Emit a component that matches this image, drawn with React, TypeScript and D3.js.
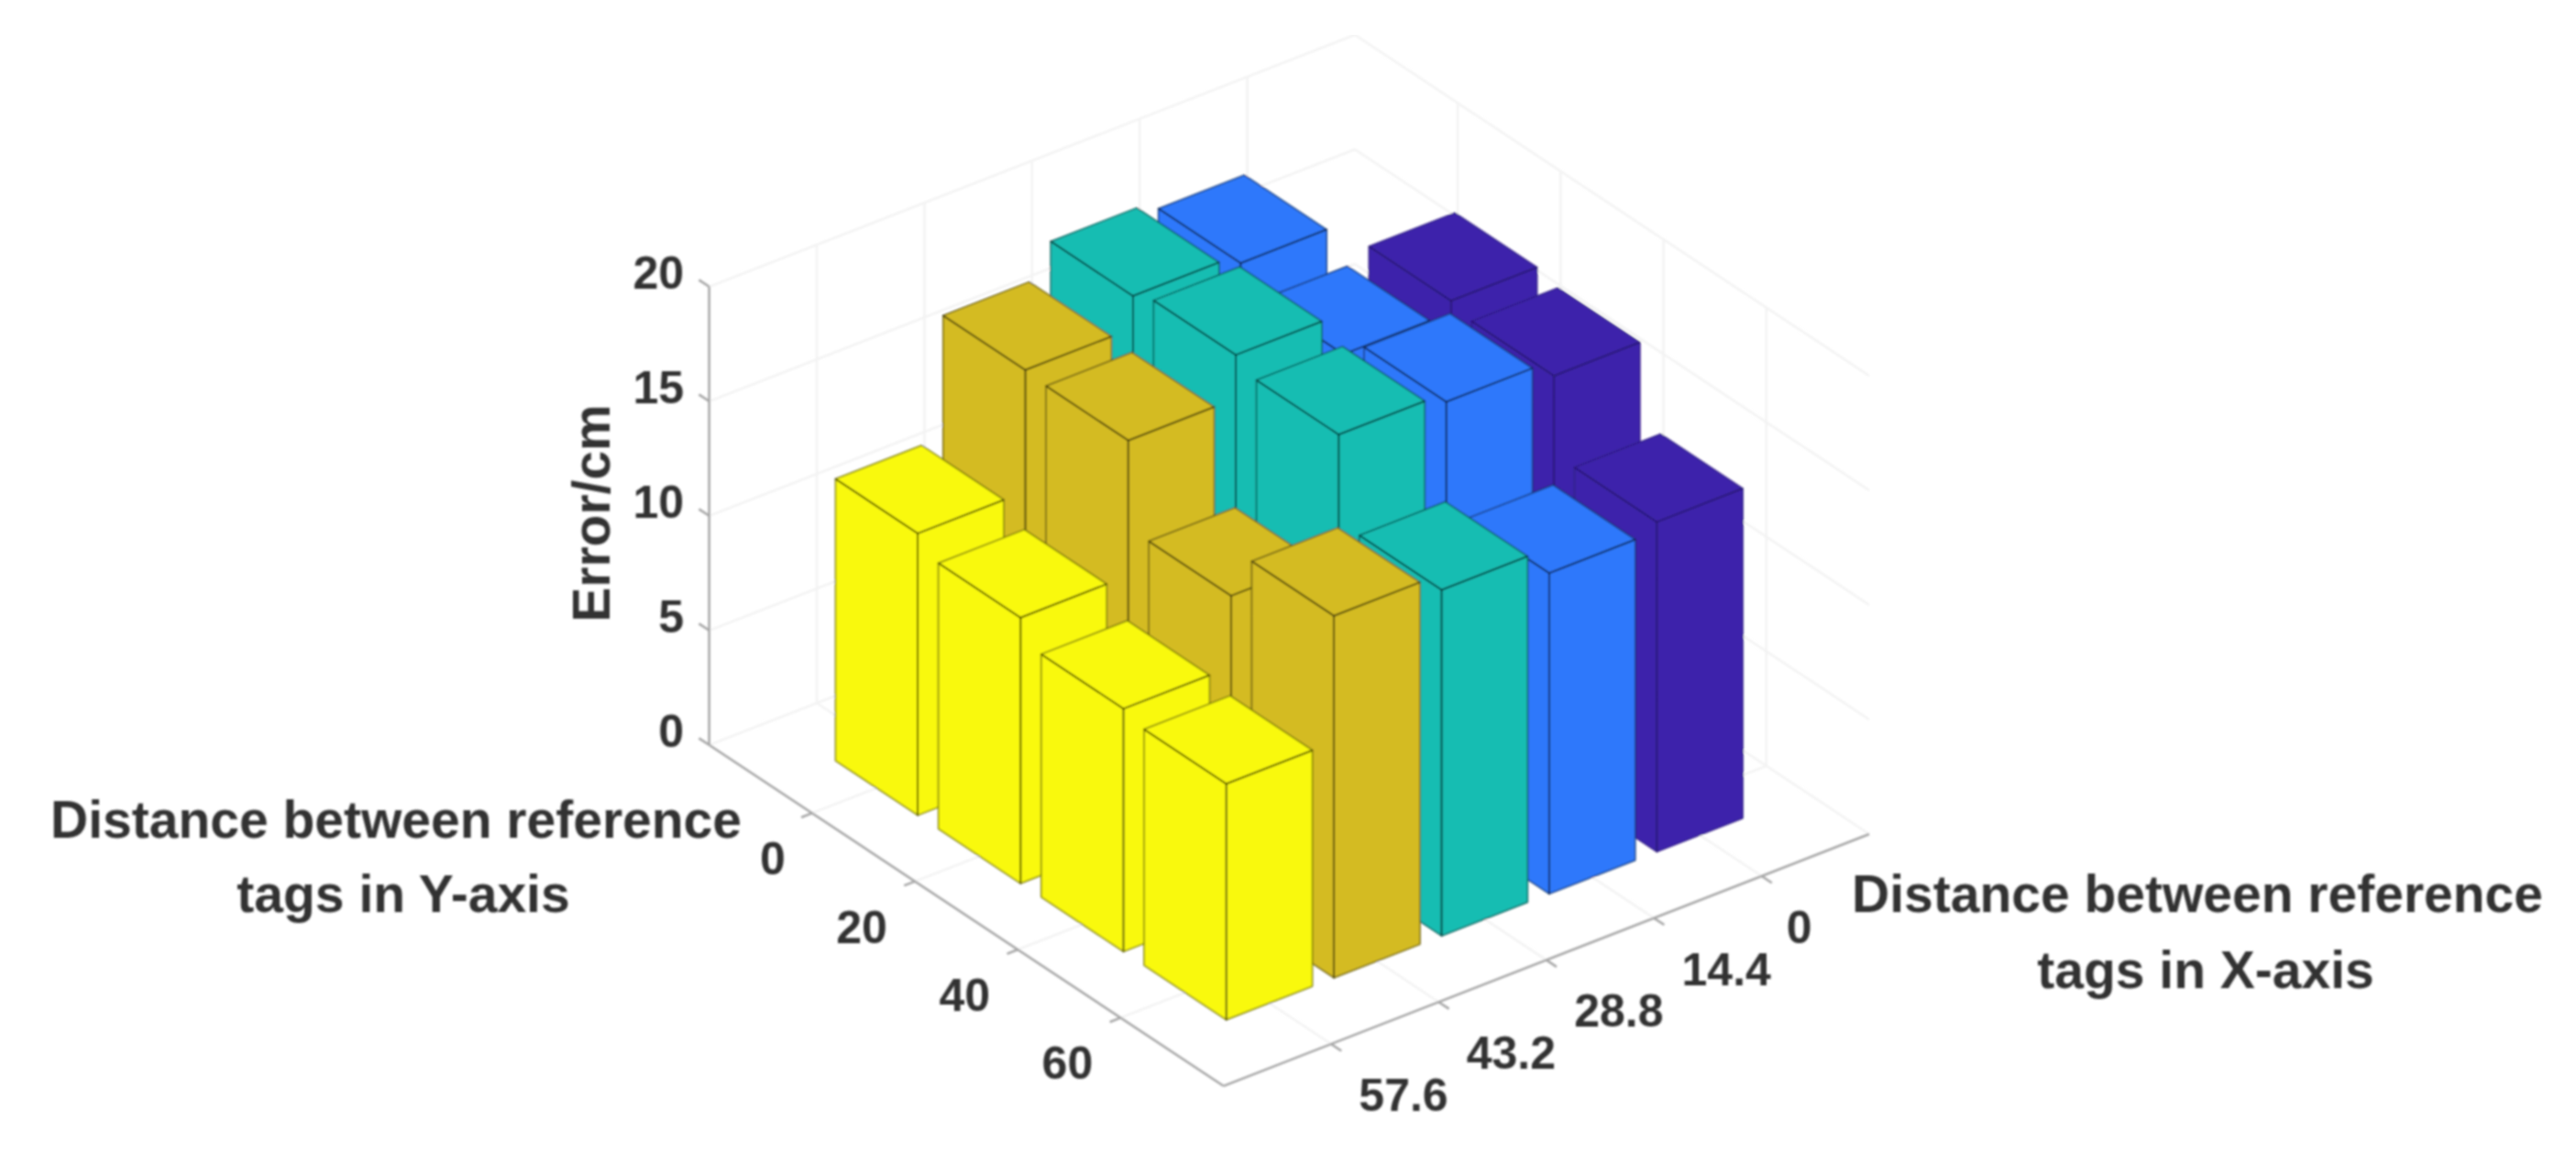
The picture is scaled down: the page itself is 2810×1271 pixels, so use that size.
import React from "react";
import * as d3 from "d3";

const xTickLabels = ["0", "14.4", "28.8", "43.2", "57.6"];
const yTickLabels = ["0", "20", "40", "60"];
const zTicks = [0, 5, 10, 15, 20];
// rows by X index, columns by Y index
const heightsX0 = [12, 18.1, 17.8, 14.4];
const heightsX1 = [18.6, 17.6, 18.5, 14.0];
const heightsX2 = [19.0, 19.4, 18.9, 15.1];
const heightsX3 = [17.6, 17.5, 13.7, 15.8];
const heightsX4 = [12.3, 11.6, 10.6, 10.3];
const heights = [heightsX0, heightsX1, heightsX2, heightsX3, heightsX4];
const seriesColors = ["#3c24ab", "#2f78fb", "#17bdb2", "#d4bb22", "#f9f90f"];

const W = 2810, H = 1271;
const BAR_HALF = 0.4;
const FONT = "'Liberation Sans', Arial, sans-serif";
const TEXT = "#333333";

// oblique projection built from linear scales of each data dimension
const O = { x: 1478, y: 538 };
const sx = d3.scaleLinear().domain([-1, 5]);
const xPx = sx.copy().range([0, -704.4]);
const xPy = sx.copy().range([0, 274.8]);
const sy = d3.scaleLinear().domain([-1, 4]);
const yPx = sy.copy().range([0, 561]);
const yPy = sy.copy().range([0, 372]);
const zPy = d3.scaleLinear().domain([0, 20]).range([0, -500]);

const proj = (x: number, y: number, z: number): [number, number] => [
  O.x + xPx(x) + yPx(y),
  O.y + xPy(x) + yPy(y) + zPy(z),
];
const path = (pts: [number, number][]) => d3.line()(pts)! + "Z";
const seg = (a: [number, number], b: [number, number]) => d3.line()([a, b])!;

const GRID = "#f3f3f3";
const AXIS = "#a6a6a6";

function Bar({ i, j, h }: { i: number; j: number; h: number }) {
  const x0 = i - BAR_HALF, x1 = i + BAR_HALF, y0 = j - BAR_HALF, y1 = j + BAR_HALF;
  const fill = seriesColors[i];
  const edge = { stroke: "#000", strokeOpacity: i === 0 ? 0.18 : 0.42, strokeWidth: 1.8, strokeLinejoin: "round" as const };
  const top = path([proj(x0, y0, h), proj(x1, y0, h), proj(x1, y1, h), proj(x0, y1, h)]);
  const left = path([proj(x1, y0, 0), proj(x1, y1, 0), proj(x1, y1, h), proj(x1, y0, h)]);
  const right = path([proj(x0, y1, 0), proj(x1, y1, 0), proj(x1, y1, h), proj(x0, y1, h)]);
  return (
    <g>
      {[left, right, top].map((d, k) => (
        <path key={k} d={d} fill={fill} stroke={fill} strokeWidth={1} />
      ))}
      {[left, right, top].map((d, k) => (
        <path key={k} d={d} fill="none" {...edge} />
      ))}
    </g>
  );
}

export default function App() {
  const xUnits = d3.range(0, 5);
  const yUnits = d3.range(0, 4);
  const bars = xUnits.flatMap((i) => yUnits.map((j) => ({ i, j, h: heights[i][j] })));
  const tickLen = 0.1;
  return (
    <svg width={W} height={H} viewBox={`0 0 ${W} ${H}`} style={{ position: "absolute", left: 0, top: 0, background: "#fff" }}>
      <defs>
        <filter id="soft" x="0" y="0" width="100%" height="100%">
          <feGaussianBlur stdDeviation="1.3" />
        </filter>
      </defs>
      <rect width={W} height={H} fill="#fff" />
      <g filter="url(#soft)">
        {/* back walls and floor grid */}
        <g stroke={GRID} strokeWidth={2.5} fill="none">
          {zTicks.map((z) => (
            <g key={z}>
              <path d={seg(proj(5, -1, z), proj(-1, -1, z))} />
              <path d={seg(proj(-1, -1, z), proj(-1, 4, z))} />
            </g>
          ))}
          {xUnits.map((i) => (
            <g key={i}>
              <path d={seg(proj(i, -1, 0), proj(i, -1, 20))} />
              <path d={seg(proj(i, -1, 0), proj(i, 4, 0))} />
            </g>
          ))}
          {yUnits.map((j) => (
            <g key={j}>
              <path d={seg(proj(-1, j, 0), proj(-1, j, 20))} />
              <path d={seg(proj(-1, j, 0), proj(5, j, 0))} />
            </g>
          ))}
        </g>
        {/* axes */}
        <g stroke={AXIS} strokeWidth={2.5} fill="none">
          <path d={seg(proj(5, -1, 0), proj(5, -1, 20))} />
          <path d={seg(proj(5, -1, 0), proj(5, 4, 0))} />
          <path d={seg(proj(5, 4, 0), proj(-1, 4, 0))} />
          {zTicks.map((z) => (
            <path key={z} d={seg(proj(5, -1, z), proj(5, -1 - tickLen, z))} />
          ))}
          {yUnits.map((j) => (
            <path key={j} d={seg(proj(5, j, 0), proj(5 + tickLen, j, 0))} />
          ))}
          {xUnits.map((i) => (
            <path key={i} d={seg(proj(i, 4, 0), proj(i, 4 + tickLen, 0))} />
          ))}
        </g>
        {bars.map((b) => (
          <Bar key={`${b.i}-${b.j}`} {...b} />
        ))}
        {/* tick labels */}
        <g fontFamily={FONT} fontWeight={700} fontSize={50} fill={TEXT}>
          {zTicks.map((z) => (
            <text key={z} x={746} y={proj(5, -1, z)[1] - 15} textAnchor="end" dominantBaseline="central">{z}</text>
          ))}
          {yTickLabels.map((t, j) => {
            const [px, py] = proj(5, j, 0);
            return <text key={t} x={px + (j === 0 ? -43 : -58)} y={py + 50} textAnchor="middle" dominantBaseline="central">{t}</text>;
          })}
          {xTickLabels.map((t, i) => {
            const [px, py] = proj(i, 4, 0);
            return <text key={t} x={px + (i === 0 ? 41 : 79)} y={py + 56} textAnchor="middle" dominantBaseline="central">{t}</text>;
          })}
        </g>
        {/* axis titles */}
        <g fontFamily={FONT} fontWeight={700} fontSize={57} fill={TEXT} textAnchor="middle">
          <text x={645} y={560} transform="rotate(-90 645 560)" dominantBaseline="central">Error/cm</text>
          <text x={432} y={914}>Distance between reference</text>
          <text x={440} y={995}>tags in Y-axis</text>
          <text x={2397} y={995}>Distance between reference</text>
          <text x={2406} y={1078}>tags in X-axis</text>
        </g>
      </g>
    </svg>
  );
}
